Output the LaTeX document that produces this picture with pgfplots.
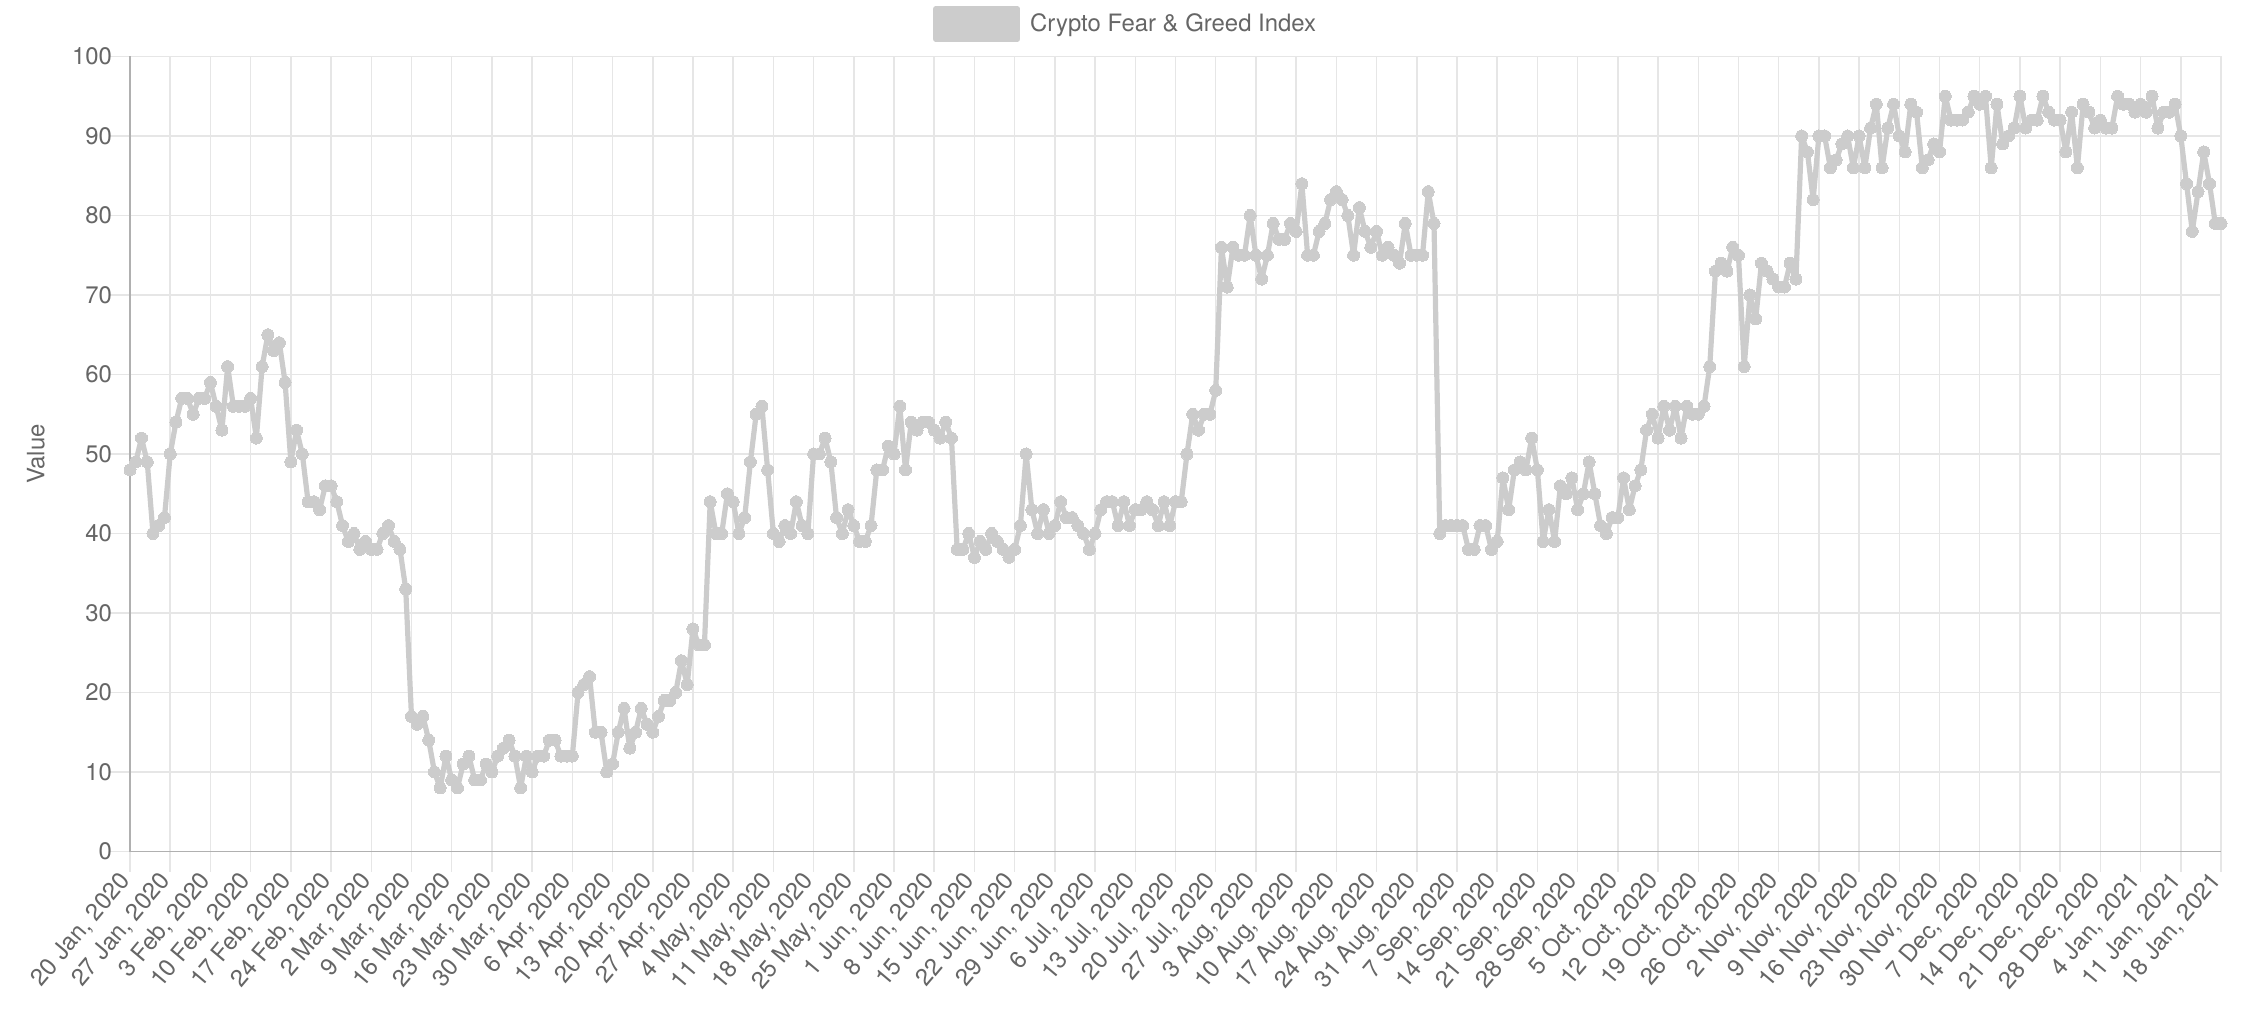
\documentclass[border=0pt]{standalone}
\usepackage{fontspec}
\setmainfont{TeX Gyre Heros}
\usepackage{pgfplots}
\pgfplotsset{compat=1.18}

\definecolor{linegray}{HTML}{CCCCCC}
\definecolor{gridgray}{HTML}{E6E6E6}
\definecolor{axisgray}{HTML}{B0B0B0}
\definecolor{textgray}{HTML}{666666}

\newcommand{\tickfont}{\fontsize{12}{14}\selectfont}

\begin{document}
\begin{tikzpicture}
\begin{axis}[
    scale only axis,
    width=1045.5bp, height=397.5bp,
    at={(65bp,80.25bp)}, anchor=south west,
    xmin=0, xmax=364, ymin=0, ymax=100,
    xtick={0,7,...,364},
    ytick={0,10,...,100},
    xticklabels={{20 Jan, 2020},{27 Jan, 2020},{3 Feb, 2020},{10 Feb, 2020},{17 Feb, 2020},{24 Feb, 2020},
      {2 Mar, 2020},{9 Mar, 2020},{16 Mar, 2020},{23 Mar, 2020},{30 Mar, 2020},{6 Apr, 2020},{13 Apr, 2020},
      {20 Apr, 2020},{27 Apr, 2020},{4 May, 2020},{11 May, 2020},{18 May, 2020},{25 May, 2020},{1 Jun, 2020},
      {8 Jun, 2020},{15 Jun, 2020},{22 Jun, 2020},{29 Jun, 2020},{6 Jul, 2020},{13 Jul, 2020},{20 Jul, 2020},
      {27 Jul, 2020},{3 Aug, 2020},{10 Aug, 2020},{17 Aug, 2020},{24 Aug, 2020},{31 Aug, 2020},{7 Sep, 2020},
      {14 Sep, 2020},{21 Sep, 2020},{28 Sep, 2020},{5 Oct, 2020},{12 Oct, 2020},{19 Oct, 2020},{26 Oct, 2020},
      {2 Nov, 2020},{9 Nov, 2020},{16 Nov, 2020},{23 Nov, 2020},{30 Nov, 2020},{7 Dec, 2020},{14 Dec, 2020},
      {21 Dec, 2020},{28 Dec, 2020},{4 Jan, 2021},{11 Jan, 2021},{18 Jan, 2021}},
    axis lines*=left,
    axis line style={color=axisgray, line width=0.75bp},
    grid=major,
    major grid style={color=gridgray, line width=0.75bp},
    tick align=outside,
    major tick length=10bp,
    tick style={color=gridgray, line width=0.75bp},
    /pgf/number format/assume math mode=true,
    tick label style={font=\tickfont, text=textgray},
    yticklabel style={anchor=east, xshift=4.5bp},
    xticklabel style={rotate=50, anchor=east},
    ylabel={Value},
    every axis y label/.style={at={(axis description cs:-0.045,0.5)}, rotate=90, anchor=center,
      font=\tickfont, text=textgray},
    legend style={at={(axis description cs:0.4766,1.0409)}, anchor=center, draw=none, fill=none,
      font=\tickfont, text=textgray, inner sep=0pt},
    legend image code/.code={\fill[linegray] (0bp,-7.5bp) rectangle (41bp,7.5bp);
      \path (44bp,0bp);},
]
\addplot[color=linegray, line width=2.6bp, line join=round, mark=*, mark size=3bp,
    mark options={fill=linegray, draw=linegray, line width=0pt}] coordinates {
(0,48) (1,49) (2,52) (3,49) (4,40) (5,41) (6,42)
(7,50) (8,54) (9,57) (10,57) (11,55) (12,57) (13,57)
(14,59) (15,56) (16,53) (17,61) (18,56) (19,56) (20,56)
(21,57) (22,52) (23,61) (24,65) (25,63) (26,64) (27,59)
(28,49) (29,53) (30,50) (31,44) (32,44) (33,43) (34,46)
(35,46) (36,44) (37,41) (38,39) (39,40) (40,38) (41,39)
(42,38) (43,38) (44,40) (45,41) (46,39) (47,38) (48,33)
(49,17) (50,16) (51,17) (52,14) (53,10) (54,8) (55,12)
(56,9) (57,8) (58,11) (59,12) (60,9) (61,9) (62,11)
(63,10) (64,12) (65,13) (66,14) (67,12) (68,8) (69,12)
(70,10) (71,12) (72,12) (73,14) (74,14) (75,12) (76,12)
(77,12) (78,20) (79,21) (80,22) (81,15) (82,15) (83,10)
(84,11) (85,15) (86,18) (87,13) (88,15) (89,18) (90,16)
(91,15) (92,17) (93,19) (94,19) (95,20) (96,24) (97,21)
(98,28) (99,26) (100,26) (101,44) (102,40) (103,40) (104,45)
(105,44) (106,40) (107,42) (108,49) (109,55) (110,56) (111,48)
(112,40) (113,39) (114,41) (115,40) (116,44) (117,41) (118,40)
(119,50) (120,50) (121,52) (122,49) (123,42) (124,40) (125,43)
(126,41) (127,39) (128,39) (129,41) (130,48) (131,48) (132,51)
(133,50) (134,56) (135,48) (136,54) (137,53) (138,54) (139,54)
(140,53) (141,52) (142,54) (143,52) (144,38) (145,38) (146,40)
(147,37) (148,39) (149,38) (150,40) (151,39) (152,38) (153,37)
(154,38) (155,41) (156,50) (157,43) (158,40) (159,43) (160,40)
(161,41) (162,44) (163,42) (164,42) (165,41) (166,40) (167,38)
(168,40) (169,43) (170,44) (171,44) (172,41) (173,44) (174,41)
(175,43) (176,43) (177,44) (178,43) (179,41) (180,44) (181,41)
(182,44) (183,44) (184,50) (185,55) (186,53) (187,55) (188,55)
(189,58) (190,76) (191,71) (192,76) (193,75) (194,75) (195,80)
(196,75) (197,72) (198,75) (199,79) (200,77) (201,77) (202,79)
(203,78) (204,84) (205,75) (206,75) (207,78) (208,79) (209,82)
(210,83) (211,82) (212,80) (213,75) (214,81) (215,78) (216,76)
(217,78) (218,75) (219,76) (220,75) (221,74) (222,79) (223,75)
(224,75) (225,75) (226,83) (227,79) (228,40) (229,41) (230,41)
(231,41) (232,41) (233,38) (234,38) (235,41) (236,41) (237,38)
(238,39) (239,47) (240,43) (241,48) (242,49) (243,48) (244,52)
(245,48) (246,39) (247,43) (248,39) (249,46) (250,45) (251,47)
(252,43) (253,45) (254,49) (255,45) (256,41) (257,40) (258,42)
(259,42) (260,47) (261,43) (262,46) (263,48) (264,53) (265,55)
(266,52) (267,56) (268,53) (269,56) (270,52) (271,56) (272,55)
(273,55) (274,56) (275,61) (276,73) (277,74) (278,73) (279,76)
(280,75) (281,61) (282,70) (283,67) (284,74) (285,73) (286,72)
(287,71) (288,71) (289,74) (290,72) (291,90) (292,88) (293,82)
(294,90) (295,90) (296,86) (297,87) (298,89) (299,90) (300,86)
(301,90) (302,86) (303,91) (304,94) (305,86) (306,91) (307,94)
(308,90) (309,88) (310,94) (311,93) (312,86) (313,87) (314,89)
(315,88) (316,95) (317,92) (318,92) (319,92) (320,93) (321,95)
(322,94) (323,95) (324,86) (325,94) (326,89) (327,90) (328,91)
(329,95) (330,91) (331,92) (332,92) (333,95) (334,93) (335,92)
(336,92) (337,88) (338,93) (339,86) (340,94) (341,93) (342,91)
(343,92) (344,91) (345,91) (346,95) (347,94) (348,94) (349,93)
(350,94) (351,93) (352,95) (353,91) (354,93) (355,93) (356,94)
(357,90) (358,84) (359,78) (360,83) (361,88) (362,84) (363,79)
(364,79)
};
\addlegendentry{Crypto Fear \& Greed Index}
\end{axis}
\pgfresetboundingbox
\path[use as bounding box] (0bp,0bp) rectangle (1130bp,506bp);
\end{tikzpicture}
\end{document}
